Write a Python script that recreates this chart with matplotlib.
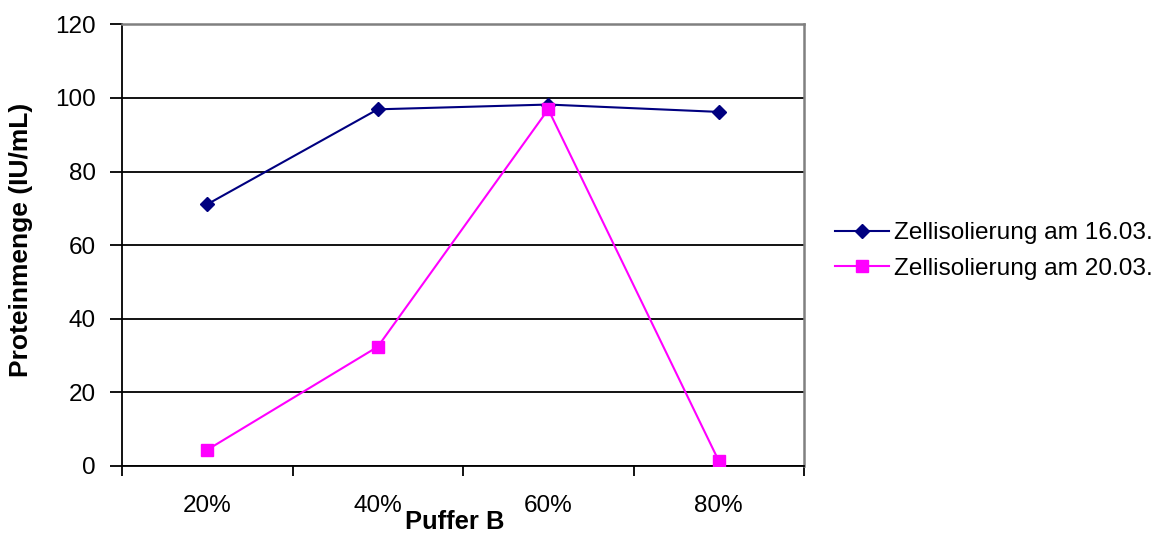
import matplotlib
matplotlib.use("Agg")
import matplotlib.pyplot as plt
import numpy as np

categories = ["20%", "40%", "60%", "80%"]
series1_name = "Zellisolierung am 16.03."
series1 = [71.1, 96.9, 98.2, 96.2]
series2_name = "Zellisolierung am 20.03."
series2 = [4.4, 32.4, 96.9, 1.4]
y_ticks = [0, 20, 40, 60, 80, 100, 120]

plt.rcParams['font.family'] = ['Liberation Sans', 'DejaVu Sans']

fig = plt.figure(figsize=(11.58, 5.34), dpi=100)
ax = fig.add_axes([122/1158, (534-466)/534, (804-122)/1158, (466-24.3)/534])

x = np.arange(len(categories))
ax.plot(x, series1, color='#000080', lw=1.5, marker='D', ms=7.5, label=series1_name, zorder=3)
ax.plot(x, series2, color='#FF00FF', lw=1.5, marker='s', ms=8.6, label=series2_name, zorder=3)

ax.set_xlim(-0.5, len(categories) - 0.5)
ax.set_ylim(0, 120)
ax.set_yticks(y_ticks)
ax.set_yticklabels([str(v) for v in y_ticks], fontsize=17.5)
ax.yaxis.grid(True, color='black', lw=1.3)
ax.set_axisbelow(True)

ax.set_xticks(np.arange(-0.5, len(categories)), minor=False)
ax.set_xticklabels([])
ax.set_xticks(x, minor=True)
ax.set_xticklabels(categories, minor=True, fontsize=17.5)
ax.tick_params(axis='x', which='minor', length=0, pad=21)
ax.tick_params(axis='x', which='major', length=7, width=1.3, direction='out')
ax.tick_params(axis='y', length=9, width=1.3, direction='out', pad=10)

for s in ['left', 'bottom']:
    ax.spines[s].set_color('black')
    ax.spines[s].set_linewidth(1.3)
for s in ['top', 'right']:
    ax.spines[s].set_color('#808080')
    ax.spines[s].set_linewidth(1.8)

fig.text(21/1158, 1 - 240/534, 'Proteinmenge (IU/mL)', fontsize=19, fontweight='bold',
         rotation=90, ha='center', va='center')
fig.text(455/1158, 1 - 522/534, 'Puffer B', fontsize=18.4, fontweight='bold', ha='center', va='center')

fig.legend(loc='center left', bbox_to_anchor=(835/1158, 1 - 251/534), frameon=False,
           fontsize=17.6, handlelength=2.2, handletextpad=0.2, labelspacing=0.55,
           borderpad=0, borderaxespad=0)

fig.savefig('out.png', dpi=100, facecolor='white')
